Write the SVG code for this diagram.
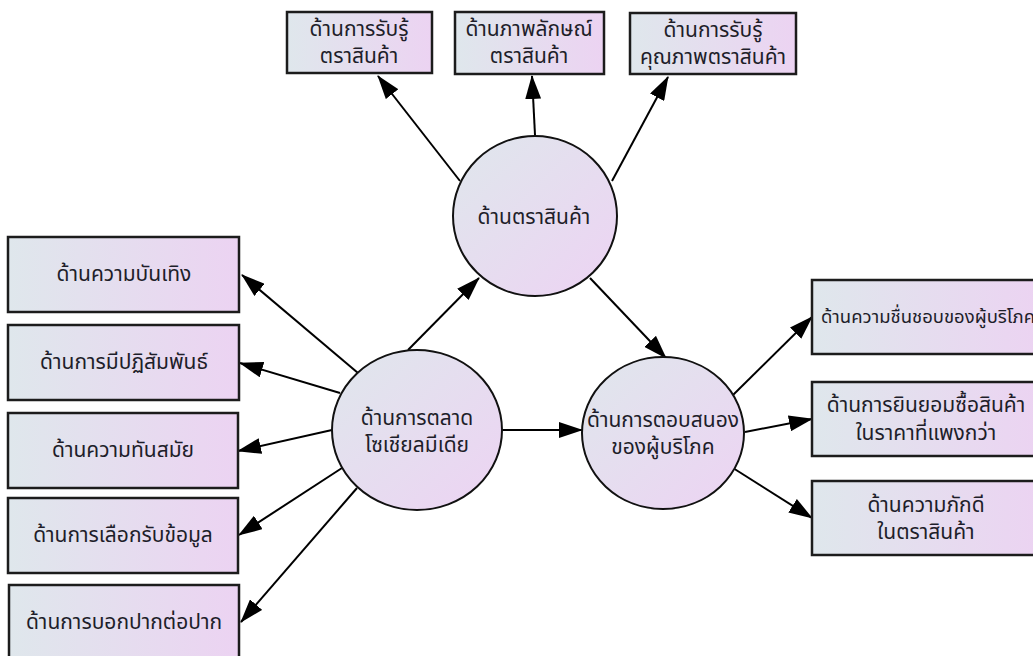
<svg xmlns="http://www.w3.org/2000/svg" width="1033" height="656" viewBox="0 0 1033 656">
<defs>
<linearGradient id="gBox" x1="0" y1="0" x2="1" y2="0">
<stop offset="0" stop-color="#dfe7ec"/>
<stop offset="1" stop-color="#ecd3f2"/>
</linearGradient>
<linearGradient id="gCirc" x1="0" y1="0" x2="1" y2="1">
<stop offset="0" stop-color="#dfe7ec"/>
<stop offset="1" stop-color="#edd3f3"/>
</linearGradient>
<marker id="arr" markerUnits="userSpaceOnUse" markerWidth="24" markerHeight="16" refX="23" refY="8" orient="auto">
<path d="M0,0 L24,8 L0,16 z" fill="#000"/>
</marker>
<style>
.box{fill:url(#gBox);stroke:#1c1c1c;stroke-width:2.5}
.circ{fill:url(#gCirc);stroke:#111;stroke-width:2}
.t{font-family:Tahoma,"Noto Sans Thai","Noto Sans Thai UI",Loma,"Noto Sans",sans-serif;font-size:21px;fill:#1e1e2a;text-anchor:middle;dominant-baseline:central}
.s{font-size:18.5px}
.c line{stroke:#000;stroke-width:2;marker-end:url(#arr)}
</style>
</defs>
<rect width="1033" height="656" fill="#fff"/>
<g id="connectors" class="c">
<line x1="460" y1="181" x2="378" y2="76"/>
<line x1="535" y1="135" x2="532" y2="76"/>
<line x1="612" y1="181" x2="668" y2="77"/>
<line x1="408" y1="350" x2="479" y2="278"/>
<line x1="590" y1="278" x2="666" y2="358"/>
<line x1="502" y1="430" x2="582" y2="430"/>
<line x1="358" y1="373" x2="242" y2="275"/>
<line x1="340" y1="393" x2="240" y2="363"/>
<line x1="332" y1="430" x2="238" y2="451"/>
<line x1="342" y1="468" x2="239" y2="535"/>
<line x1="357" y1="488" x2="241" y2="622"/>
<line x1="733" y1="395" x2="812" y2="317"/>
<line x1="745" y1="432" x2="812" y2="419"/>
<line x1="733" y1="468" x2="812" y2="518"/>
</g>
<g id="brand">
<ellipse class="circ" cx="535" cy="216" rx="82" ry="80"/>
<text class="t" x="534" y="217">ด้านตราสินค้า</text>
</g>
<g id="smm">
<ellipse class="circ" cx="417" cy="430" rx="85" ry="80"/>
<text class="t" x="417" y="418">ด้านการตลาด</text>
<text class="t" x="417" y="445">โซเชียลมีเดีย</text>
</g>
<g id="response">
<ellipse class="circ" cx="663" cy="433" rx="81" ry="76"/>
<text class="t" x="663" y="420">ด้านการตอบสนอง</text>
<text class="t" x="663" y="447">ของผู้บริโภค</text>
</g>
<g id="top1">
<rect class="box" x="287" y="12" width="145" height="61"/>
<text class="t" x="359" y="29">ด้านการรับรู้</text>
<text class="t" x="359" y="56">ตราสินค้า</text>
</g>
<g id="top2">
<rect class="box" x="455" y="12" width="149" height="62"/>
<text class="t" x="529" y="29">ด้านภาพลักษณ์</text>
<text class="t" x="529" y="56">ตราสินค้า</text>
</g>
<g id="top3">
<rect class="box" x="630" y="13" width="166" height="61"/>
<text class="t" x="713" y="30">ด้านการรับรู้</text>
<text class="t" x="713" y="57">คุณภาพตราสินค้า</text>
</g>
<g id="left1">
<rect class="box" x="8" y="237" width="231" height="75"/>
<text class="t" x="124" y="274">ด้านความบันเทิง</text>
</g>
<g id="left2">
<rect class="box" x="8" y="325" width="231" height="75"/>
<text class="t" x="124" y="362">ด้านการมีปฏิสัมพันธ์</text>
</g>
<g id="left3">
<rect class="box" x="8" y="413" width="230" height="75"/>
<text class="t" x="123" y="450">ด้านความทันสมัย</text>
</g>
<g id="left4">
<rect class="box" x="8" y="498" width="230" height="75"/>
<text class="t" x="123" y="535">ด้านการเลือกรับข้อมูล</text>
</g>
<g id="left5">
<rect class="box" x="9" y="585" width="230" height="76"/>
<text class="t" x="124" y="622">ด้านการบอกปากต่อปาก</text>
</g>
<g id="right1">
<rect class="box" x="812" y="280" width="230" height="74"/>
<text class="t s" x="928" y="317">ด้านความชื่นชอบของผู้บริโภค</text>
</g>
<g id="right2">
<rect class="box" x="812" y="382" width="230" height="74"/>
<text class="t" x="926" y="405">ด้านการยินยอมซื้อสินค้า</text>
<text class="t" x="926" y="433">ในราคาที่แพงกว่า</text>
</g>
<g id="right3">
<rect class="box" x="812" y="481" width="230" height="74"/>
<text class="t" x="926" y="505">ด้านความภักดี</text>
<text class="t" x="926" y="532">ในตราสินค้า</text>
</g>
</svg>
